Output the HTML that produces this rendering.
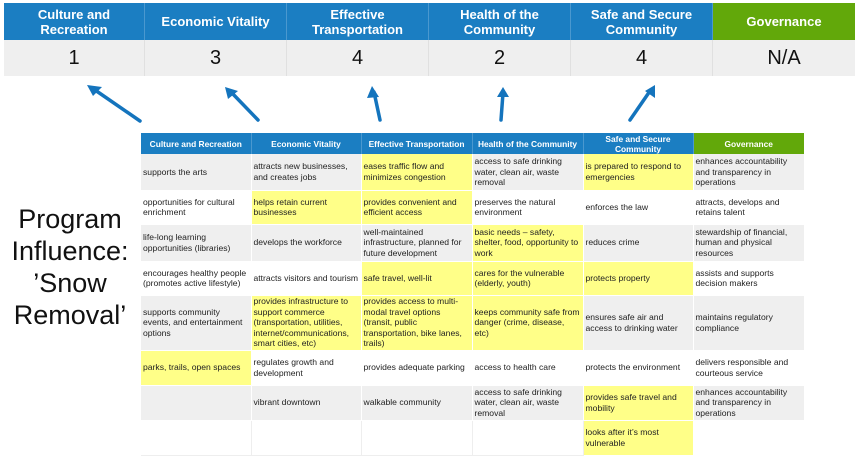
<!DOCTYPE html>
<html><head><meta charset="utf-8"><style>
*{margin:0;padding:0;box-sizing:border-box}
body{width:859px;height:465px;background:#fff;position:relative;overflow:hidden;font-family:"Liberation Sans",Arial,sans-serif}
.b{position:absolute;display:flex;align-items:center;justify-content:center;text-align:center}
.h{color:#fff;font-weight:bold;font-size:13px;line-height:15px;background:#1b7ec2;border-right:1px solid #4a98cf}
.n{background:#efefef;font-size:20px;color:#111;border-right:1px solid #e0e0e0}
.t{position:absolute;left:141px;top:133px;border-collapse:collapse;table-layout:fixed;font-size:8.6px;line-height:10.5px;color:#222}
.t td{padding:0 1px 0 2px;vertical-align:middle;border-right:1px solid #fff;border-bottom:1px solid #fff;white-space:nowrap;overflow:hidden}
.t th{background:#1b7ec2;color:#fff;font-size:8.4px;line-height:10px;height:21px;font-weight:bold;border-right:1px solid #4a98cf}
.g{background:#efefef}
.w{background:#fff}
.y{background:#ffff88!important}
.title{position:absolute;left:0;top:203px;width:140px;text-align:center;font-size:27px;line-height:32px;color:#111}
</style></head><body>
<div class="b h" style="left:4px;top:3px;width:141px;height:37px">Culture and<br>Recreation</div>
<div class="b h" style="left:145px;top:3px;width:142px;height:37px">Economic Vitality</div>
<div class="b h" style="left:287px;top:3px;width:142px;height:37px">Effective<br>Transportation</div>
<div class="b h" style="left:429px;top:3px;width:142px;height:37px">Health of the<br>Community</div>
<div class="b h" style="left:571px;top:3px;width:142px;height:37px">Safe and Secure<br>Community</div>
<div class="b h" style="left:713px;top:3px;width:142px;height:37px;background:#62a80a;border:none">Governance</div>
<div class="b n" style="left:4px;top:40px;width:141px;height:36px">1</div>
<div class="b n" style="left:145px;top:40px;width:142px;height:36px">3</div>
<div class="b n" style="left:287px;top:40px;width:142px;height:36px">4</div>
<div class="b n" style="left:429px;top:40px;width:142px;height:36px">2</div>
<div class="b n" style="left:571px;top:40px;width:142px;height:36px">4</div>
<div class="b n" style="left:713px;top:40px;width:142px;height:36px;border:none">N/A</div>
<svg style="position:absolute;left:0;top:0" width="859" height="130">
<g stroke="#1474bd" stroke-width="3.5" fill="none" stroke-linecap="round">
<line x1="140" y1="121" x2="95" y2="90"/>
<line x1="258" y1="120" x2="231" y2="92"/>
<line x1="380" y1="120" x2="374" y2="92"/>
<line x1="501" y1="120" x2="503" y2="93"/>
<line x1="630" y1="120" x2="650" y2="91"/>
</g>
<g fill="#1474bd">
<polygon points="87,85 102,87 93,96"/>
<polygon points="225,87 238,91 228,99"/>
<polygon points="372,86 379,97 367,98"/>
<polygon points="503,87 509,97 497,97"/>
<polygon points="655,85 655,98 645,91"/>
</g></svg>
<div class="title">Program<br>Influence:<br>’Snow<br>Removal’</div>
<table class="t">
<colgroup><col style="width:110px"><col style="width:110px"><col style="width:111px"><col style="width:111px"><col style="width:110px"><col style="width:111px"></colgroup>
<tr><th>Culture and Recreation</th><th>Economic Vitality</th><th>Effective Transportation</th><th>Health of the Community</th><th>Safe and Secure Community</th><th style="background:#62a80a;border:none">Governance</th></tr>
<tr class="g" style="height:36px"><td>supports the arts</td><td>attracts new businesses,<br>and creates jobs</td><td class="y">eases traffic flow and<br>minimizes congestion</td><td>access to safe drinking<br>water, clean air, waste<br>removal</td><td class="y">is prepared to respond to<br>emergencies</td><td>enhances accountability<br>and transparency in<br>operations</td></tr>
<tr class="w" style="height:34px"><td>opportunities for cultural<br>enrichment</td><td class="y">helps retain current<br>businesses</td><td class="y">provides convenient and<br>efficient access</td><td>preserves the natural<br>environment</td><td>enforces the law</td><td>attracts, develops and<br>retains talent</td></tr>
<tr class="g" style="height:37px"><td>life-long learning<br>opportunities (libraries)</td><td>develops the workforce</td><td>well-maintained<br>infrastructure, planned for<br>future development</td><td class="y">basic needs – safety,<br>shelter, food, opportunity to<br>work</td><td>reduces crime</td><td>stewardship of financial,<br>human and physical<br>resources</td></tr>
<tr class="w" style="height:34px"><td>encourages healthy people<br>(promotes active lifestyle)</td><td>attracts visitors and tourism</td><td class="y">safe travel, well-lit</td><td class="y">cares for the vulnerable<br>(elderly, youth)</td><td class="y">protects property</td><td>assists and supports<br>decision makers</td></tr>
<tr class="g" style="height:55px"><td>supports community<br>events, and entertainment<br>options</td><td class="y">provides infrastructure to<br>support commerce<br>(transportation, utilities,<br>internet/communications,<br>smart cities, etc)</td><td class="y">provides access to multi-<br>modal travel options<br>(transit, public<br>transportation, bike lanes,<br>trails)</td><td class="y">keeps community safe from<br>danger (crime, disease,<br>etc)</td><td>ensures safe air and<br>access to drinking water</td><td>maintains regulatory<br>compliance</td></tr>
<tr class="w" style="height:35px"><td class="y">parks, trails, open spaces</td><td>regulates growth and<br>development</td><td>provides adequate parking</td><td>access to health care</td><td>protects the environment</td><td>delivers responsible and<br>courteous service</td></tr>
<tr class="g" style="height:35px"><td></td><td>vibrant downtown</td><td>walkable community</td><td>access to safe drinking<br>water, clean air, waste<br>removal</td><td class="y">provides safe travel and<br>mobility</td><td>enhances accountability<br>and transparency in<br>operations</td></tr>
<tr class="w" style="height:35px"><td style="border-right:1px solid #eee;border-bottom:1px solid #eee"></td><td style="border-right:1px solid #eee;border-bottom:1px solid #eee"></td><td style="border-right:1px solid #eee;border-bottom:1px solid #eee"></td><td style="border-right:1px solid #eee;border-bottom:1px solid #eee"></td><td class="y">looks after it’s most<br>vulnerable</td><td></td></tr>
</table>
</body></html>
